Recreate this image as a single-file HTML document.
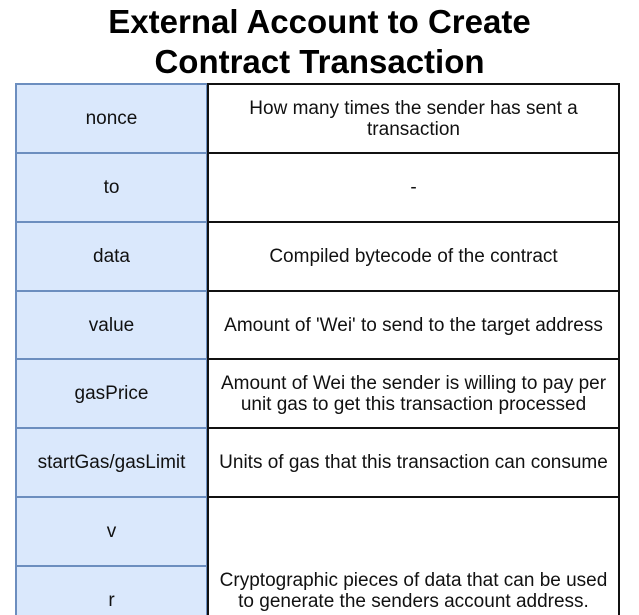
<!DOCTYPE html><html><head><style>
html,body{margin:0;width:639px;height:615px;overflow:hidden}
body{background:#fff;position:relative;font-family:"Liberation Sans",sans-serif}
.t{position:absolute;left:0;width:639px;text-align:center;font-weight:bold;font-size:33px;color:#000;line-height:38px}
.l,.r{position:absolute;box-sizing:border-box;display:flex;align-items:center;justify-content:center;text-align:center;font-size:19px;color:#111;line-height:21px;white-space:nowrap}
.l{left:15px;width:193px;background:#dae8fc;border:2px solid #6c8ebf}
.r{left:207px;width:413px;background:#fff;border:2px solid #111;padding:0 2px}
</style></head><body>
<div class="t" style="top:3px">External Account to Create</div>
<div class="t" style="top:43px">Contract Transaction</div>
<div class="l" style="top:83px;height:71px">nonce</div>
<div class="l" style="top:152px;height:71px">to</div>
<div class="l" style="top:221px;height:71px">data</div>
<div class="l" style="top:290px;height:70px">value</div>
<div class="l" style="top:358px;height:71px">gasPrice</div>
<div class="l" style="top:427px;height:71px">startGas/gasLimit</div>
<div class="l" style="top:496px;height:71px">v</div>
<div class="l" style="top:565px;height:71px">r</div>
<div class="r" style="top:83px;height:71px">How many times the sender has sent a<br>transaction</div>
<div class="r" style="top:152px;height:71px">-</div>
<div class="r" style="top:221px;height:71px">Compiled bytecode of the contract</div>
<div class="r" style="top:290px;height:70px">Amount of 'Wei' to send to the target address</div>
<div class="r" style="top:358px;height:71px">Amount of Wei the sender is willing to pay per<br>unit gas to get this transaction processed</div>
<div class="r" style="top:427px;height:71px">Units of gas that this transaction can consume</div>
<div class="r" style="top:496px;height:140px;align-items:flex-start;padding-top:72px">Cryptographic pieces of data that can be used<br>to generate the senders account address.</div>
</body></html>
